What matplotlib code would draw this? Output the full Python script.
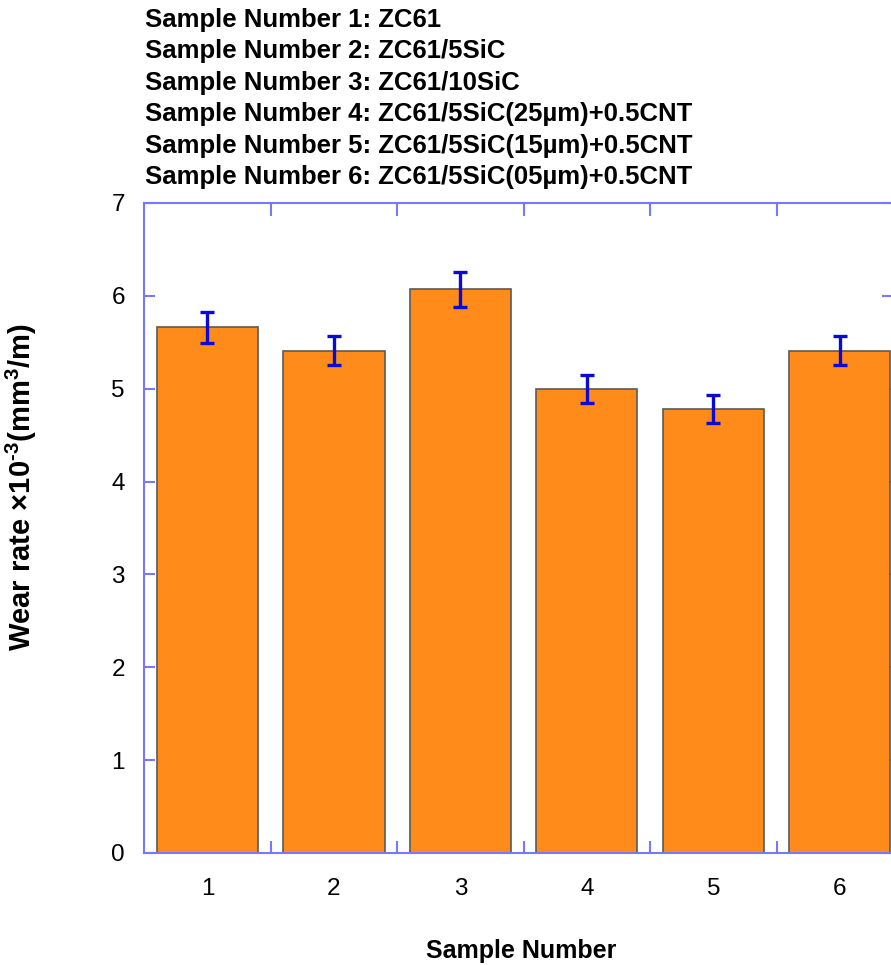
import matplotlib
matplotlib.use('Agg')
import matplotlib.pyplot as plt
from matplotlib.ticker import FixedLocator

plt.rcParams['font.family'] = ['Liberation Sans', 'DejaVu Sans']
plt.rcParams['mathtext.fontset'] = 'custom'
plt.rcParams['mathtext.rm'] = 'Liberation Sans:bold'
plt.rcParams['mathtext.default'] = 'rm'

# data
samples = [1, 2, 3, 4, 5, 6]
wear_rate = [5.66, 5.41, 6.07, 5.00, 4.78, 5.41]
wear_err = [0.17, 0.16, 0.19, 0.15, 0.15, 0.16]
sample_names = ['ZC61', 'ZC61/5SiC', 'ZC61/10SiC',
                'ZC61/5SiC(25µm)+0.5CNT',
                'ZC61/5SiC(15µm)+0.5CNT',
                'ZC61/5SiC(05µm)+0.5CNT']
y_ticks = [0, 1, 2, 3, 4, 5, 6, 7]

spine_col = '#7878ff'
bar_col = '#ff8c1a'
err_col = '#0a0ad2'

fig = plt.figure(figsize=(8.91, 9.65), dpi=100)
ax = fig.add_axes([0.1619, 0.1161, 0.8403, 0.6736])

ax.bar(samples, wear_rate, width=0.8, color=bar_col,
       edgecolor='#5a5a5a', linewidth=1.2, zorder=2)
ax.errorbar(samples, wear_rate, yerr=wear_err, fmt='none',
            ecolor=err_col, elinewidth=2.4, capsize=5, capthick=2.4, zorder=3)

ax.set_xlim(0.5, 6.42)
ax.set_ylim(0, 7)

# labels on bar centres, tick marks between bars
ax.set_xticks(samples)
ax.set_xticklabels([str(s) for s in samples])
ax.xaxis.set_minor_locator(FixedLocator([1.5, 2.5, 3.5, 4.5, 5.5]))
ax.tick_params(axis='x', which='major', length=0, pad=18, labelsize=17.5)
ax.tick_params(axis='x', which='minor', direction='in', length=9,
               width=1.5, color=spine_col, top=True, bottom=True)

ax.set_yticks(y_ticks)
ax.tick_params(axis='y', which='major', direction='in', length=8, width=1.5,
               color=spine_col, left=True, right=True, pad=14, labelsize=17.5)

for sp in ax.spines.values():
    sp.set_color(spine_col)
    sp.set_linewidth(1.5)

ax.set_xlabel('Sample Number', fontsize=18, fontweight='bold')
ax.xaxis.set_label_coords(0.503, -0.133)
ax.set_ylabel(r'Wear rate ×10$^{\text{-}3}$(mm$^{3}$/m)', fontsize=21, fontweight='bold')
ax.yaxis.set_label_coords(-0.14, 0.563)

for i, name in enumerate(sample_names):
    fig.text(145 / 891, 1 - (20 + i * 31.4) / 965,
             'Sample Number %d: %s' % (samples[i], name),
             fontsize=18.5, fontweight='bold', va='center', ha='left')

plt.savefig('out.png', dpi=100)
